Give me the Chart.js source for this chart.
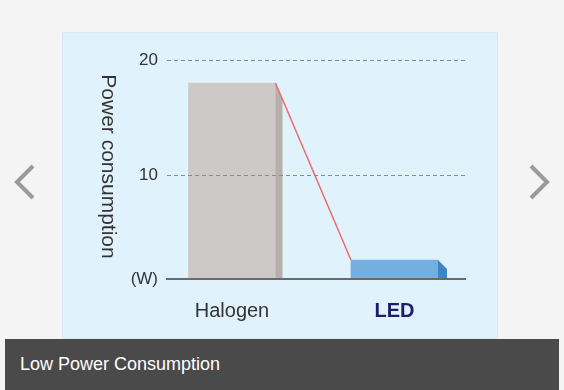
<!DOCTYPE html>
<html>
<head>
<meta charset="utf-8">
<script src="https://cdn.jsdelivr.net/npm/chart.js@4"></script>
<style>
  html, body { margin: 0; padding: 0; background: #f4f4f4; }
  body { width: 564px; height: 390px; position: relative; overflow: hidden; font-family: "Liberation Sans", Arial, sans-serif; }
  #panel { position: absolute; left: 62px; top: 32px; width: 434px; height: 305px; background: #e0f2fb; border: 1px solid #d8e9f1; }
  #wrap { position: absolute; left: 0; top: 0; width: 564px; height: 390px; }
  #caption { position: absolute; left: 5px; top: 339px; width: 554px; height: 51px; background: #4a4a4a; color: #fff; font-size: 18px; line-height: 51px; box-sizing: border-box; padding-left: 15px; }
  .arrow { position: absolute; top: 160px; }
</style>
</head>
<body>
<div id="panel"></div>
<svg class="arrow" style="left:10px" width="30" height="44"><polyline points="23,6 7,22 23,38" fill="none" stroke="#9a9a9a" stroke-width="4"/></svg>
<svg class="arrow" style="left:524px" width="30" height="44"><polyline points="7,6 23,22 7,38" fill="none" stroke="#9a9a9a" stroke-width="4"/></svg>
<div id="wrap"><canvas id="powerChart" width="564" height="390"></canvas></div>
<div id="caption">Low Power Consumption</div>
<script>
const categories = ['Halogen', 'LED'];
const powerValues = [18, 2.65];
const yTickValues = [1, 10, 20];
const yTickLabels = ['(W)', '10', '20'];
const yTitle = 'Power consumption';

const fontFamily = '"Liberation Sans", Arial, sans-serif';

// 3D side strips and the red connecting line, drawn from the bar elements
const barDecor = {
    id: 'barDecor',
    afterDatasetsDraw(chart) {
        const bars = chart.getDatasetMeta(0).data;
        if (bars.length < 2) return;
        const ctx = chart.ctx;
        const bottom = chart.chartArea.bottom;
        const hal = bars[0], led = bars[1];
        const halRight = hal.x + hal.width / 2;
        const ledLeft = led.x - led.width / 2;
        const ledRight = led.x + led.width / 2;
        const slope = (led.y - hal.y) / (ledLeft - halRight);

        ctx.save();
        // halogen side, top follows the red line
        ctx.fillStyle = '#b5b0ae';
        ctx.beginPath();
        ctx.moveTo(halRight, hal.y);
        ctx.lineTo(halRight + 7, hal.y + 7 * slope);
        ctx.lineTo(halRight + 7, bottom);
        ctx.lineTo(halRight, bottom);
        ctx.closePath();
        ctx.fill();

        // LED side with a bevel
        ctx.fillStyle = '#3f84c9';
        ctx.beginPath();
        ctx.moveTo(ledRight, led.y);
        ctx.lineTo(ledRight + 9, led.y + 9);
        ctx.lineTo(ledRight + 9, bottom);
        ctx.lineTo(ledRight, bottom);
        ctx.closePath();
        ctx.fill();

        // red line
        ctx.strokeStyle = '#ee6a70';
        ctx.lineWidth = 1.5;
        ctx.beginPath();
        ctx.moveTo(halRight, hal.y);
        ctx.lineTo(ledLeft, led.y);
        ctx.stroke();
        ctx.restore();
    },
    afterDraw(chart) {
        const ctx = chart.ctx;
        const area = chart.chartArea;
        ctx.save();
        ctx.translate(area.left - 59, (area.top + area.bottom) / 2 - 3);
        ctx.rotate(Math.PI / 2);
        ctx.font = '21px ' + fontFamily;
        ctx.fillStyle = '#333';
        ctx.textAlign = 'center';
        ctx.textBaseline = 'middle';
        ctx.fillText(yTitle, 0, 0);
        ctx.restore();
    }
};

let ctx = document.getElementById('powerChart').getContext('2d');
new Chart(ctx, {
    type: 'bar',
    data: {
        datasets: [{
            data: categories.map((c, i) => ({ x: i, y: powerValues[i] })),
            backgroundColor: ['#cdc9c8', '#75afdf'],
            borderWidth: 0,
            barThickness: 87
        }]
    },
    options: {
        responsive: false,
        animation: false,
        layout: { padding: { left: 100, right: 99, top: 60, bottom: 61 } },
        plugins: {
            legend: { display: false },
            tooltip: { enabled: false }
        },
        scales: {
            x: {
                type: 'linear',
                min: -0.4,
                max: 1.434,
                offset: false,
                afterBuildTicks: scale => { scale.ticks = categories.map((c, i) => ({ value: i })); },
                afterFit: scale => { scale.height = 50; },
                grid: { display: false, drawTicks: false },
                border: { color: '#6a6a6a', width: 2, z: 2 },
                ticks: {
                    padding: 20,
                    callback: v => categories[v],
                    color: c => c.index === 1 ? '#1d1d6b' : '#333',
                    font: c => ({ family: fontFamily, size: 20, weight: c.index === 1 ? 'bold' : 'normal' })
                }
            },
            y: {
                min: 1,
                max: 20,
                afterBuildTicks: scale => { scale.ticks = yTickValues.map(v => ({ value: v })); },
                afterFit: scale => { scale.width = 67; },
                grid: {
                    z: 1,
                    drawTicks: false,
                    lineWidth: 1,
                    color: c => (c.tick && c.tick.value === yTickValues[0]) ? 'rgba(0,0,0,0)' : '#8a8a8a'
                },
                border: { display: false, dash: [4, 3] },
                ticks: {
                    padding: 9,
                    color: '#333',
                    font: { family: fontFamily, size: 17 },
                    callback: (v, i) => yTickLabels[i]
                }
            }
        }
    },
    plugins: [barDecor]
});
</script>
</body>
</html>
